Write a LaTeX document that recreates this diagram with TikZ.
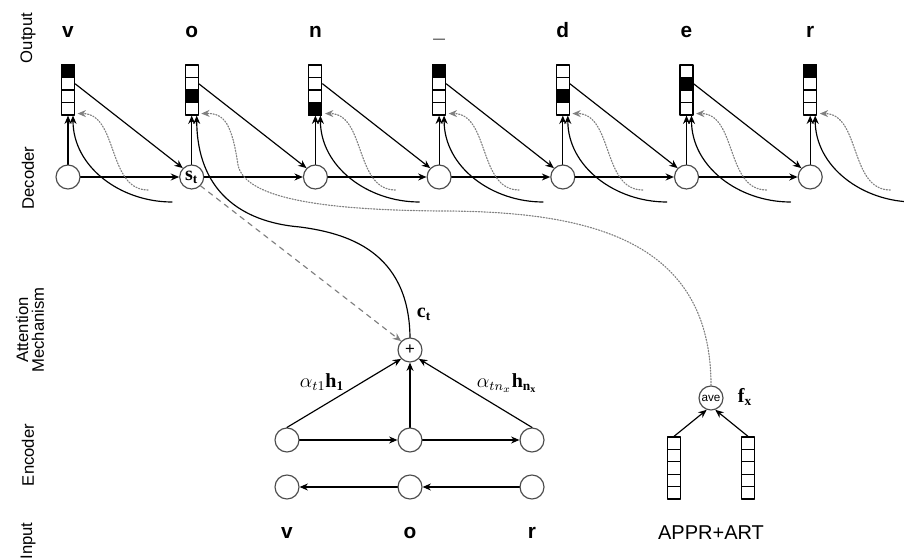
\documentclass[tikz,border=0pt]{standalone}
\usepackage{fontspec}
\setmainfont{Liberation Serif}
\setsansfont{Liberation Sans}
\usetikzlibrary{arrows.meta}

\begin{document}
\begin{tikzpicture}[x=0.6pt, y=-0.6pt, line cap=round, line join=round, line width=0.7pt, font=\sffamily, >={Stealth[length=5pt,width=4.2pt]}]
	\tikzset{unit/.style={circle, draw=black!70, minimum size=14.4pt, inner sep=0pt},
		cell/.style={rectangle, draw, minimum width=7.8pt, minimum height=7.5pt, inner sep=0pt},
		letter/.style={font=\sffamily\bfseries\fontsize{12.5}{14}\selectfont, anchor=base},
		side/.style={rotate=90, align=center, font=\sffamily},
		feat/.style={densely dotted, gray}}
	\useasboundingbox (0,0) rectangle (904,558);
	% side labels
	\node[side] (lout) at (28,38) {Output};
	\node[side] (ldec) at (28,178) {Decoder};
	\node[side] (latt) at (30,330) {Attention\\[-2.5pt]Mechanism};
	\node[side] (lenc) at (28,455) {Encoder};
	\node[side] (linp) at (28,541) {Input};
	% decoder
	\foreach \i/\ch/\f in {0/v/1,1/o/3,2/n/4,3/{\_}/1,4/d/3,5/e/2,6/r/1}{
		\pgfmathsetmacro\xx{68+123.7*\i}
		\node[letter] (y\i) at (\xx,38) {\ch};
		\foreach \k in {1,...,4}
			\node[cell] (v\i-\k) at (\xx,58.75+12.5*\k) {};
		\node[cell, fill=black] (f\i) at (\xx,58.75+12.5*\f) {};
		\node[unit] (d\i) at (\xx,177) {};
	}
	\node[font=\large] (stl) at (d1) {$\mathbf{s}_\mathbf{t}$};
	\foreach \i in {0,...,6}
		\draw[->] (d\i) -- (v\i-4.south);
	\foreach \i [count=\j from 1] in {0,...,5}{
		\draw[->] (d\i) -- (d\j);
		\draw[->] (v\i-2.east) -- (d\j.north west);
	}
	\foreach \i in {0,2,3,4,5,6}{
		\pgfmathsetmacro\xx{68+123.7*\i}
		\coordinate (c\i) at (\xx+104,202);
		\coordinate (g\i) at (\xx+80,190);
		\draw[->] (c\i) to[out=180,in=-90] ([xshift=3pt]v\i-4.south);
		\draw[feat,->] (g\i) to[out=180,in=0] ([shift={(1.5pt,1.2pt)}]v\i-4.south east);
	}
	% attention
	\node[unit] (plus) at (410,350) {+};
	\node[font=\large] (ct) at (424,314) {$\mathbf{c}_\mathbf{t}$};
	\coordinate (w1) at (300,227);
	\draw[->] (plus.north) .. controls (409,250) and (345,233) .. (w1)
		.. controls (240,222) and (197,190) .. ([xshift=3pt]v1-4.south);
	\draw[->, dashed, gray] (d1.south east) -- (plus.north west);
	% encoder
	\foreach \x/\n in {287/1,410/2,532/3}{
		\node[unit] (e\n) at (\x,440) {};
		\node[unit] (b\n) at (\x,487) {};
	}
	\draw[->] (e1) -- (e2);
	\draw[->] (e2) -- (e3);
	\draw[->] (b3) -- (b2);
	\draw[->] (b2) -- (b1);
	\draw[->] (e1.north) -- (plus.south west);
	\draw[->] (e2) -- (plus);
	\draw[->] (e3.north) -- (plus.south east);
	\node[font=\large] (a1) at (322,382) {$\alpha_{t1}\mathbf{h}_\mathbf{1}$};
	\node[font=\large] (an) at (507,383) {$\alpha_{tn_x}\mathbf{h}_{\mathbf{n}_\mathbf{x}}$};
	\node[letter] (x1) at (287,538) {v};
	\node[letter] (x2) at (410,538) {o};
	\node[letter] (x3) at (532,538) {r};
	% features
	\node[unit, font=\sffamily\scriptsize] (ave) at (711,398) {ave};
	\node[font=\large] (fx) at (745,397) {$\mathbf{f}_\mathbf{x}$};
	\foreach \k in {1,...,5}{
		\node[cell] (p\k) at (674,430.8+12.4*\k) {};
		\node[cell] (q\k) at (748,430.8+12.4*\k) {};
	}
	\draw[->] (p1.north) -- (ave.-110);
	\draw[->] (q1.north) -- (ave.-70);
	\node[font=\sffamily\large, anchor=base] (src) at (711,539) {APPR+ART};
	\coordinate (w2) at (440,211);
	\coordinate (w3) at (238,165);
	\draw[feat,->] (ave.north) .. controls (711,240) and (590,211) .. (w2)
		.. controls (330,210) and (245,200) .. (w3)
		.. controls (232,125) and (225,113) .. ([shift={(1.5pt,1.2pt)}]v1-4.south east);
\end{tikzpicture}
\end{document}
